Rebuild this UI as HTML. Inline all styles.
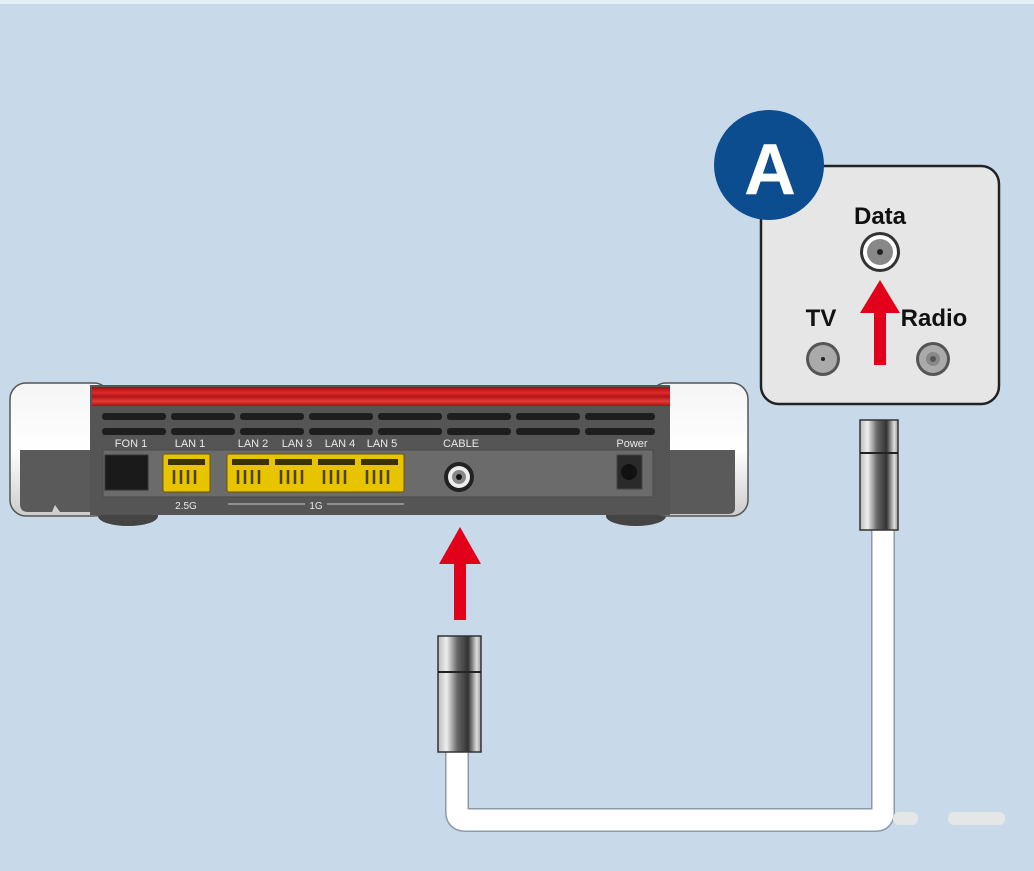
<!DOCTYPE html>
<html><head><meta charset="utf-8"><style>
html,body{margin:0;padding:0;background:#c8daea;}
svg{display:block;}
text{font-family:"Liberation Sans",sans-serif;}
</style></head><body>
<svg width="1034" height="871" viewBox="0 0 1034 871" xmlns="http://www.w3.org/2000/svg">
<defs>
<linearGradient id="cyl" x1="0" x2="1" y1="0" y2="0">
<stop offset="0" stop-color="#bbb"/><stop offset="0.2" stop-color="#eee"/><stop offset="0.45" stop-color="#666"/><stop offset="0.7" stop-color="#333"/><stop offset="0.9" stop-color="#ddd"/><stop offset="1" stop-color="#999"/>
</linearGradient>
<linearGradient id="red" x1="0" x2="0" y1="0" y2="1">
<stop offset="0" stop-color="#a01015"/><stop offset="0.3" stop-color="#e02a2a"/><stop offset="0.5" stop-color="#b01518"/><stop offset="0.75" stop-color="#e83a35"/><stop offset="1" stop-color="#a51218"/>
</linearGradient>
<linearGradient id="cap" x1="0" x2="0" y1="0" y2="1">
<stop offset="0" stop-color="#f5f5f5"/><stop offset="0.5" stop-color="#fff"/><stop offset="1" stop-color="#ccc"/>
</linearGradient>
</defs>
<rect x="0" y="0" width="1034" height="4" fill="#e6eef5"/>
<rect x="0" y="4" width="1034" height="867" fill="#c8daea"/>

<!-- cable -->
<path d="M457 750 L457 812 Q457 820 465 820 L876 820 Q883 820 883 812 L883 520" fill="none" stroke="#8a9aa8" stroke-width="24"/>
<path d="M457 750 L457 812 Q457 820 465 820 L876 820 Q883 820 883 812 L883 520" fill="none" stroke="#fff" stroke-width="21"/>
<rect x="893" y="812" width="25" height="13" rx="6" fill="#e4e6e8"/>
<rect x="948" y="812" width="57" height="13" rx="6" fill="#e4e6e8"/>

<!-- connectors -->
<rect x="438" y="636" width="43" height="116" fill="url(#cyl)" stroke="#333" stroke-width="1.5"/>
<line x1="438" y1="672" x2="481" y2="672" stroke="#222" stroke-width="2"/>
<rect x="860" y="420" width="38" height="110" fill="url(#cyl)" stroke="#333" stroke-width="1.5"/>
<line x1="860" y1="453" x2="898" y2="453" stroke="#222" stroke-width="2"/>

<!-- red arrow lower -->
<polygon points="460,527 481,564 466,564 466,620 454,620 454,564 439,564" fill="#e3001b"/>

<!-- router feet -->
<ellipse cx="128" cy="516" rx="30" ry="10" fill="#444"/>
<ellipse cx="636" cy="516" rx="30" ry="10" fill="#444"/>
<!-- left cap -->
<rect x="10" y="383" width="100" height="133" rx="16" fill="url(#cap)" stroke="#555" stroke-width="1.5"/>
<path d="M20 450 L90 450 L90 512 L60 512 L55 505 L52 512 L28 512 Q20 512 20 504 Z" fill="#5a5a5a"/>
<!-- right cap -->
<rect x="650" y="383" width="98" height="133" rx="16" fill="url(#cap)" stroke="#555" stroke-width="1.5"/>
<path d="M670 450 L735 450 L735 508 Q735 514 728 514 L670 514 Z" fill="#5a5a5a"/>
<!-- body -->
<rect x="90" y="385" width="580" height="130" fill="#555"/>
<rect x="92" y="387" width="578" height="19" fill="url(#red)"/>
<g fill="#1e1e1e">
<rect x="102" y="413" width="64" height="7" rx="3"/><rect x="171" y="413" width="64" height="7" rx="3"/><rect x="240" y="413" width="64" height="7" rx="3"/><rect x="309" y="413" width="64" height="7" rx="3"/><rect x="378" y="413" width="64" height="7" rx="3"/><rect x="447" y="413" width="64" height="7" rx="3"/><rect x="516" y="413" width="64" height="7" rx="3"/><rect x="585" y="413" width="70" height="7" rx="3"/>
<rect x="102" y="428" width="64" height="7" rx="3"/><rect x="171" y="428" width="64" height="7" rx="3"/><rect x="240" y="428" width="64" height="7" rx="3"/><rect x="309" y="428" width="64" height="7" rx="3"/><rect x="378" y="428" width="64" height="7" rx="3"/><rect x="447" y="428" width="64" height="7" rx="3"/><rect x="516" y="428" width="64" height="7" rx="3"/><rect x="585" y="428" width="70" height="7" rx="3"/>
</g>
<rect x="103" y="450" width="550" height="47" fill="#6b6b6b" stroke="#4a4a4a"/>
<g fill="#e8e8e8" font-size="11" text-anchor="middle">
<text x="131" y="447">FON 1</text><text x="190" y="447">LAN 1</text><text x="253" y="447">LAN 2</text><text x="297" y="447">LAN 3</text><text x="340" y="447">LAN 4</text><text x="382" y="447">LAN 5</text><text x="461" y="447">CABLE</text><text x="632" y="447">Power</text>
<text x="186" y="509" font-size="10">2.5G</text><text x="316" y="509" font-size="10">1G</text>
</g>
<line x1="228" y1="504" x2="305" y2="504" stroke="#ccc"/><line x1="327" y1="504" x2="404" y2="504" stroke="#ccc"/>
<rect x="105" y="455" width="43" height="35" fill="#1a1a1a" stroke="#333"/>
<!-- LAN ports -->
<rect x="163" y="454" width="47" height="38" rx="2" fill="#e8c400" stroke="#6a5a00"/>
<rect x="227" y="454" width="177" height="38" rx="2" fill="#e8c400" stroke="#6a5a00"/>
<g fill="#3a3000">
<rect x="168" y="459" width="37" height="6"/><rect x="232" y="459" width="37" height="6"/><rect x="275" y="459" width="37" height="6"/><rect x="318" y="459" width="37" height="6"/><rect x="361" y="459" width="37" height="6"/>
</g>
<g stroke="#4a4000" stroke-width="2.5">
<path d="M174 470v14M181 470v14M188 470v14M195 470v14"/>
<path d="M238 470v14M245 470v14M252 470v14M259 470v14"/>
<path d="M281 470v14M288 470v14M295 470v14M302 470v14"/>
<path d="M324 470v14M331 470v14M338 470v14M345 470v14"/>
<path d="M367 470v14M374 470v14M381 470v14M388 470v14"/>
</g>
<circle cx="459" cy="477" r="15" fill="#222"/><circle cx="459" cy="477" r="11" fill="#eee"/><circle cx="459" cy="477" r="7" fill="#888"/><circle cx="459" cy="477" r="3" fill="#111"/>
<rect x="617" y="455" width="25" height="34" fill="#2a2a2a" stroke="#444"/><circle cx="629" cy="472" r="8" fill="#111"/>

<!-- wall plate -->
<rect x="761" y="166" width="238" height="238" rx="18" fill="#e6e6e6" stroke="#222" stroke-width="2.5"/>
<circle cx="769" cy="165" r="55" fill="#0b4d8f"/>
<text x="770" y="194" font-size="72" font-weight="bold" fill="#fff" text-anchor="middle">A</text>
<g font-size="24" font-weight="bold" fill="#111" text-anchor="middle">
<text x="880" y="224">Data</text><text x="821" y="326">TV</text><text x="934" y="326">Radio</text>
</g>
<circle cx="880" cy="252" r="20" fill="#333"/><circle cx="880" cy="252" r="17" fill="#fff"/><circle cx="880" cy="252" r="13" fill="#888"/><circle cx="880" cy="252" r="3" fill="#222"/>
<circle cx="823" cy="359" r="17" fill="#555"/><circle cx="823" cy="359" r="14" fill="#aaa"/><circle cx="823" cy="359" r="2" fill="#222"/>
<circle cx="933" cy="359" r="17" fill="#555"/><circle cx="933" cy="359" r="14" fill="#aaa"/><circle cx="933" cy="359" r="7" fill="#888"/><circle cx="933" cy="359" r="3" fill="#555"/>
<polygon points="880,280 900,313 886,313 886,365 874,365 874,313 860,313" fill="#e3001b"/>
</svg>
</body></html>
